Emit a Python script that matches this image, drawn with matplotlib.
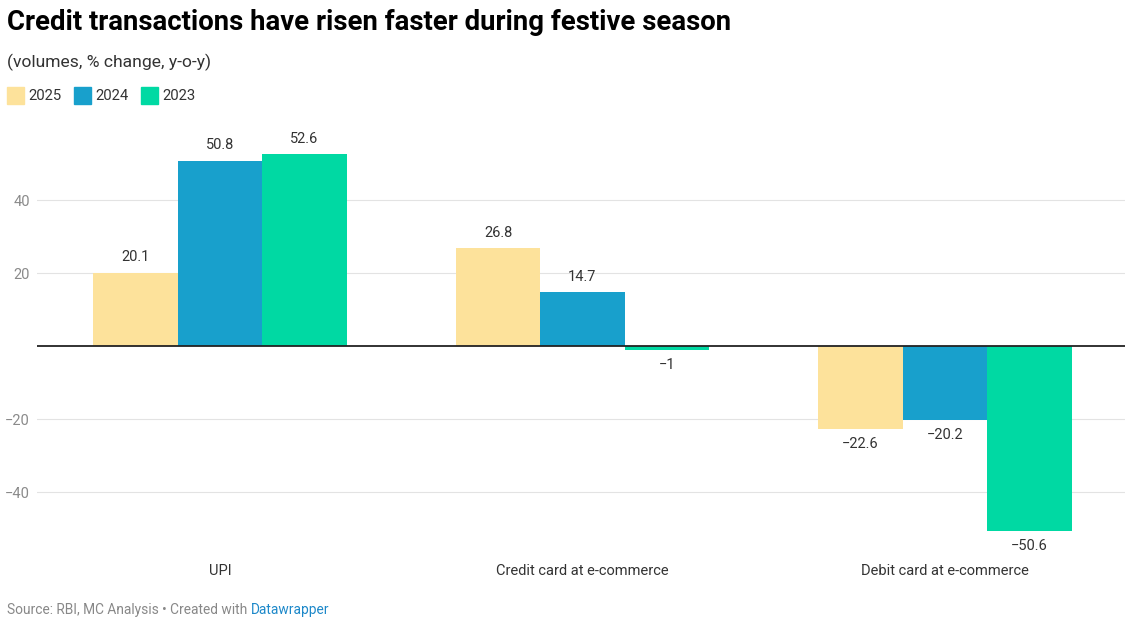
import numpy as np
import matplotlib.pyplot as plt
from matplotlib.patches import Rectangle

plt.rcParams['font.family'] = ['Roboto', 'DejaVu Sans']

# Data
categories = ['UPI', 'Credit card at e-commerce', 'Debit card at e-commerce']
years = ['2025', '2024', '2023']
values_2025 = [20.1, 26.8, -22.6]
values_2024 = [50.8, 14.7, -20.2]
values_2023 = [52.6, -1, -50.6]
colors = ['#fde29b', '#18a0cc', '#00d9a3']
yticks = [-40, -20, 20, 40]

W, H = 1134, 624
fig = plt.figure(figsize=(W / 100, H / 100), dpi=100)
ax = fig.add_axes([37 / W, 1 - 545 / H, 1088 / W, (545 - 130) / H])

x = np.arange(len(categories))
width = 0.233
series = [values_2025, values_2024, values_2023]
for i, (vals, col) in enumerate(zip(series, colors)):
    pos = x + (i - 1) * width
    ax.bar(pos, vals, width=width, color=col, zorder=2)
    for p, v in zip(pos, vals):
        lab = f'{v:g}'.replace('-', '\u2212')
        if v >= 0:
            ax.annotate(lab, (p, v), xytext=(0, 6), textcoords='offset points',
                        ha='center', va='bottom', fontsize=10.5, color='#333333')
        else:
            ax.annotate(lab, (p, v), xytext=(0, -6), textcoords='offset points',
                        ha='center', va='top', fontsize=10.5, color='#333333')

ax.set_xlim(-0.505, 2.497)
ax.set_ylim(-54.5, 59.2)
ax.axhline(0, color='#222222', lw=1.3, zorder=3)
for t in yticks:
    ax.axhline(t, color='#e3e3e3', lw=0.8, zorder=1)

ax.set_yticks(yticks)
ax.set_yticklabels([str(t).replace('-', '\u2212') for t in yticks])
ax.tick_params(axis='y', length=0, pad=5, labelsize=10.5, labelcolor='#8a8a8a')
ax.set_xticks(x)
ax.set_xticklabels(categories)
ax.tick_params(axis='x', length=0, pad=14, labelsize=10.5, labelcolor='#333333')
for s in ax.spines.values():
    s.set_visible(False)

# Header
fig.text(7 / W, 1 - 22 / H, 'Credit transactions have risen faster during festive season',
         fontsize=19.8, fontweight='bold', color='#000000', va='center', ha='left')
fig.text(7 / W, 1 - 62 / H, '(volumes, % change, y-o-y)',
         fontsize=12.6, color='#333333', va='center', ha='left')

# Legend
lx = [7, 74, 141]
for px, yr, col in zip(lx, years, colors):
    fig.patches.append(Rectangle((px / W, 1 - 104 / H), 17 / W, 17 / H,
                                 transform=fig.transFigure, color=col))
    fig.text((px + 21) / W, 1 - 95.5 / H, yr, fontsize=10.7, color='#333333',
             va='center', ha='left')

# Footer
src = fig.text(7 / W, 1 - 610 / H, 'Source: RBI, MC Analysis \u2022 Created with ',
               fontsize=9.9, color='#888888', va='center', ha='left')
fig.canvas.draw()
bb = src.get_window_extent()
fig.text(bb.x1 / W, 1 - 610 / H, 'Datawrapper', fontsize=9.9, color='#1d88c9',
         va='center', ha='left')

fig.savefig('out.png', dpi=100)
